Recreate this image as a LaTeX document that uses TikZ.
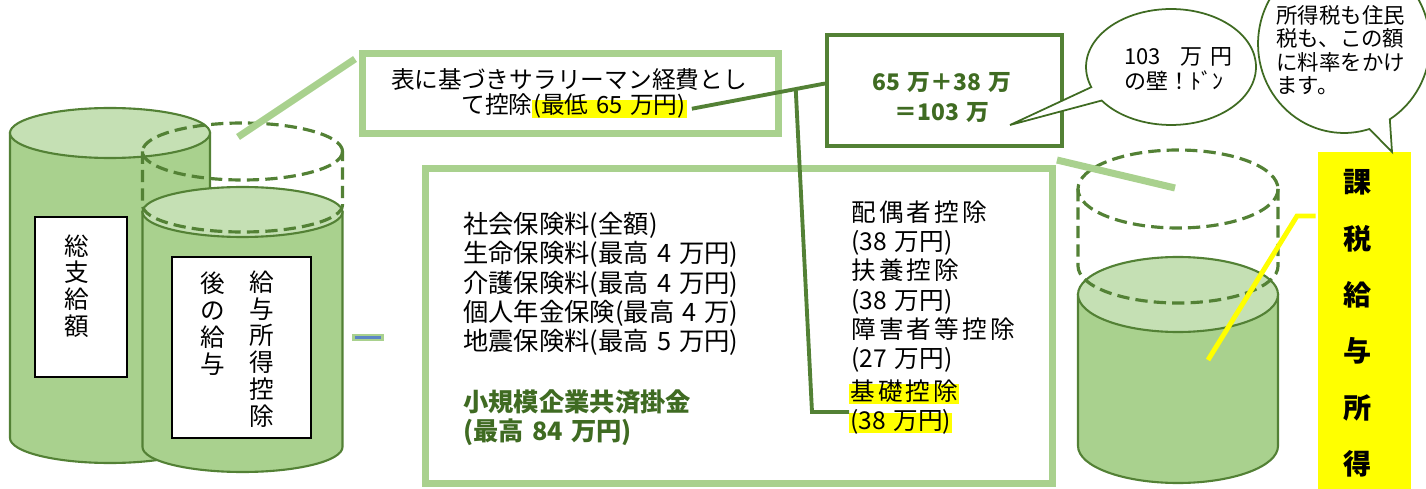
\documentclass[tikz,border=0pt]{standalone}
\usepackage{fontspec}
\setmainfont{Noto Sans CJK JP}
\newfontfamily\cjkls[LetterSpace=13]{Noto Sans CJK JP}
\usetikzlibrary{calc,shapes.callouts}
\newcommand\jsp{\hspace{0.32em}}
\definecolor{body}{HTML}{A9D18E}
\definecolor{topc}{HTML}{C5E0B4}
\definecolor{dkg}{HTML}{538135}
\definecolor{txg}{HTML}{3F6B22}
\definecolor{bubc}{HTML}{3F6B22}
\definecolor{ylw}{HTML}{FFFF00}
\definecolor{markblue}{HTML}{5B86C5}
\tikzset{
 cylbody/.style={fill=body, draw=dkg, line width=1.2pt},
 cyltop/.style={fill=topc, draw=dkg, line width=1.2pt},
 dashcyl/.style={draw=dkg, line width=1.8pt, dash pattern=on 7pt off 3.5pt},
 whitebox/.style={fill=white, draw=black, line width=0.7pt, inner sep=0pt},
 vtxt/.style={align=center, inner sep=0pt, font=\fontsize{14}{15.3}\selectfont},
 lgbox/.style={draw=body, line width=4pt, inner sep=0pt},
 lgline/.style={draw=body, line width=4pt},
 dkline/.style={draw=dkg, line width=2.2pt},
 bubble/.style={ellipse callout, draw=bubc, line width=1pt, fill=white, inner sep=0pt},
 hl/.style={fill=ylw, inner xsep=0.5pt, inner ysep=0pt},
}
\begin{document}
\begin{tikzpicture}[x=0.02cm,y=-0.02cm]
\useasboundingbox (0,0) rectangle (1426,489);
% ---------- left cylinders ----------
\filldraw[cylbody] (10,133) -- (10,438) arc[start angle=180,end angle=0,x radius=100,y radius=25] -- (210,133) -- cycle;
\filldraw[cyltop] (110,133) ellipse[x radius=100,y radius=25];
\node[whitebox, minimum width=1.84cm, minimum height=3.2cm] (wr1) at (81,297) {};
\node[vtxt] (t1) at (77,286) {総\\支\\給\\額};
\filldraw[cylbody] (142.5,212) -- (142.5,447) arc[start angle=180,end angle=0,x radius=100,y radius=25] -- (342.5,212) -- cycle;
\filldraw[cyltop] (242.5,212) ellipse[x radius=100,y radius=25];
\node[whitebox, minimum width=2.78cm, minimum height=3.62cm] (wr2) at (241.5,347.5) {};
\node[vtxt] (t2a) at (262,349) {給\\与\\所\\得\\控\\除};
\node[vtxt] (t2b) at (213,323.5) {後\\の\\給\\与};
% dashed cylinder (left)
\draw[dashcyl] (242.5,151.5) ellipse[x radius=100,y radius=28.5];
\draw[dashcyl] (142.5,151.5) -- (142.5,205) arc[start angle=180,end angle=0,x radius=100,y radius=27] -- (342.5,151.5);
% ---------- box 1 ----------
\node[lgbox, minimum width=8.32cm, minimum height=1.6cm] (box1) at (570.5,93.5) {};
\node[inner sep=0pt, font=\fontsize{13.5}{16}\selectfont] (b1l1) at (569,80) {表に基づきサラリーマン経費とし};
\node[inner xsep=0pt, inner ysep=0pt, anchor=base east, font=\fontsize{13.5}{16}\selectfont] (b1l2a) at (533,114) {て控除};
\node[hl, anchor=base west, text height=0.8em, text depth=0.2em, font=\fontsize{13.5}{16}\selectfont] (b1l2b) at ($(b1l2a.base east)+(-1,0)$) {(最低\jsp 65\jsp 万円)};
\coordinate (lgA) at (355,59);
\coordinate (lgB) at (238,137);
\draw[lgline] (lgA) -- (lgB);
% ---------- box 2 ----------
\node[draw=dkg, line width=2.3pt, minimum width=4.7cm, minimum height=2.22cm, inner sep=0pt] (box2) at (944.5,90.5) {};
\node[align=center, inner sep=0pt, text=txg, font=\bfseries\fontsize{13}{17.6}\selectfont] (b2t) at (942,97.5) {65\jsp 万＋38\jsp 万\\＝103\jsp 万};
% ---------- big box ----------
\node[lgbox, minimum width=12.54cm, minimum height=6.3cm] (bigbox) at (739,326) {};
\node[align=left, anchor=west, inner sep=0pt, font=\fontsize{14.4}{16.7}\selectfont] (ins) at (463,284)
 {社会保険料(全額)\\生命保険料(最高\jsp 4\jsp 万円)\\介護保険料(最高\jsp 4\jsp 万円)\\個人年金保険(最高\jsp 4\jsp 万)\\地震保険料(最高\jsp 5\jsp 万円)};
\node[align=left, anchor=west, inner sep=0pt, text=txg, font=\bfseries\fontsize{14.4}{16.7}\selectfont] (kyosai) at (463,417.5)
 {小規模企業共済掛金\\(最高\jsp 84\jsp 万円)};
\node[align=left, anchor=west, inner sep=0pt, font=\fontsize{14}{16.6}\selectfont] (kojo) at (851,286.5)
 {{\cjkls 配偶者控除}\\(38\jsp 万円)\\{\cjkls 扶養控除}\\(38\jsp 万円)\\{\cjkls 障害者等控除}\\(27\jsp 万円)};
\node[hl, anchor=base west, text height=0.92em, text depth=0.25em, font=\cjkls\fontsize{14}{16.6}\selectfont] (kiso1) at (849,400) {基礎控除};
\node[hl, anchor=base west, text height=0.92em, text depth=0.25em, font=\fontsize{14}{16.6}\selectfont] (kiso2) at (849,429) {(38\jsp 万円)\hspace{0.35em}};
% connector box1 -> box2 -> kiso
\coordinate (c2) at ($(box2.west)+(0,-7)$);
\coordinate (c1) at ($(b1l2b.east)+(5,0)$);
\draw[dkline] (c1) -- (c2);
\coordinate (j1) at ($(c1)!0.78!(c2)$);
\coordinate (k1) at (812,412);
\coordinate (k2) at (849,412);
\draw[dkline] (j1) -- (k1) -- (k2);
% small mark
\coordinate (m1) at (352,337.5);
\coordinate (m2) at (384,337.5);
\coordinate (m3) at (355,337.5);
\coordinate (m4) at (381,337.5);
\draw[lgline] (m1) -- (m2);
\draw[draw=markblue, line width=1.3pt] (m3) -- (m4);
% ---------- right cylinder ----------
\filldraw[cylbody] (1078,294.5) -- (1078,446) arc[start angle=180,end angle=0,x radius=100,y radius=37] -- (1278,294.5) -- cycle;
\filldraw[cyltop] (1178,294.5) ellipse[x radius=100,y radius=37.5];
\draw[dashcyl] (1178,189) ellipse[x radius=100,y radius=39];
\draw[dashcyl] (1078,189) -- (1078,266) arc[start angle=180,end angle=0,x radius=100,y radius=37] -- (1278,189);
\coordinate (lgC) at ($(bigbox.north east)+(1,-5)$);
\coordinate (lgD) at (1175,188);
\draw[lgline] (lgC) -- (lgD);
% yellow label
\node[fill=ylw, minimum width=1.86cm, minimum height=6.74cm, inner sep=0pt] (ylwbox) at (1364.5,320.5) {};
\node[align=center, inner sep=0pt, font=\bfseries\fontsize{16}{32.1}\selectfont] (kazei) at (1358,323.5) {課\\税\\給\\与\\所\\得};
\coordinate (y1) at (1208,360);
\coordinate (y2) at (1297,216);
\coordinate (y3) at ($(ylwbox.west |- y2)+(-2,0)$);
\draw[draw=ylw, line width=2.8pt] (y1) -- (y2) -- (y3);
% ---------- bubbles ----------
\node[bubble, minimum width=3.4cm, minimum height=2.32cm, callout absolute pointer={(1010,125)}] (bub1) at (1171,67) {};
\node[align=left, anchor=west, inner sep=0pt, font=\fontsize{12.5}{14.2}\selectfont] (bub1t) at (1124,69.5) {103\hspace{0.9em}万\hspace{0.35em}円\\の壁！ﾄﾞﾝ};
\node[bubble, minimum width=3.44cm, minimum height=3.56cm, callout absolute pointer={(1392,152)}] (bub2) at (1344,44) {};
\node[align=left, anchor=west, inner sep=0pt, font=\fontsize{12.2}{13.4}\selectfont] (bub2t) at (1276,50) {所得税も住民\\税も、この額\\に料率をかけ\\ます。};
\end{tikzpicture}
\end{document}
